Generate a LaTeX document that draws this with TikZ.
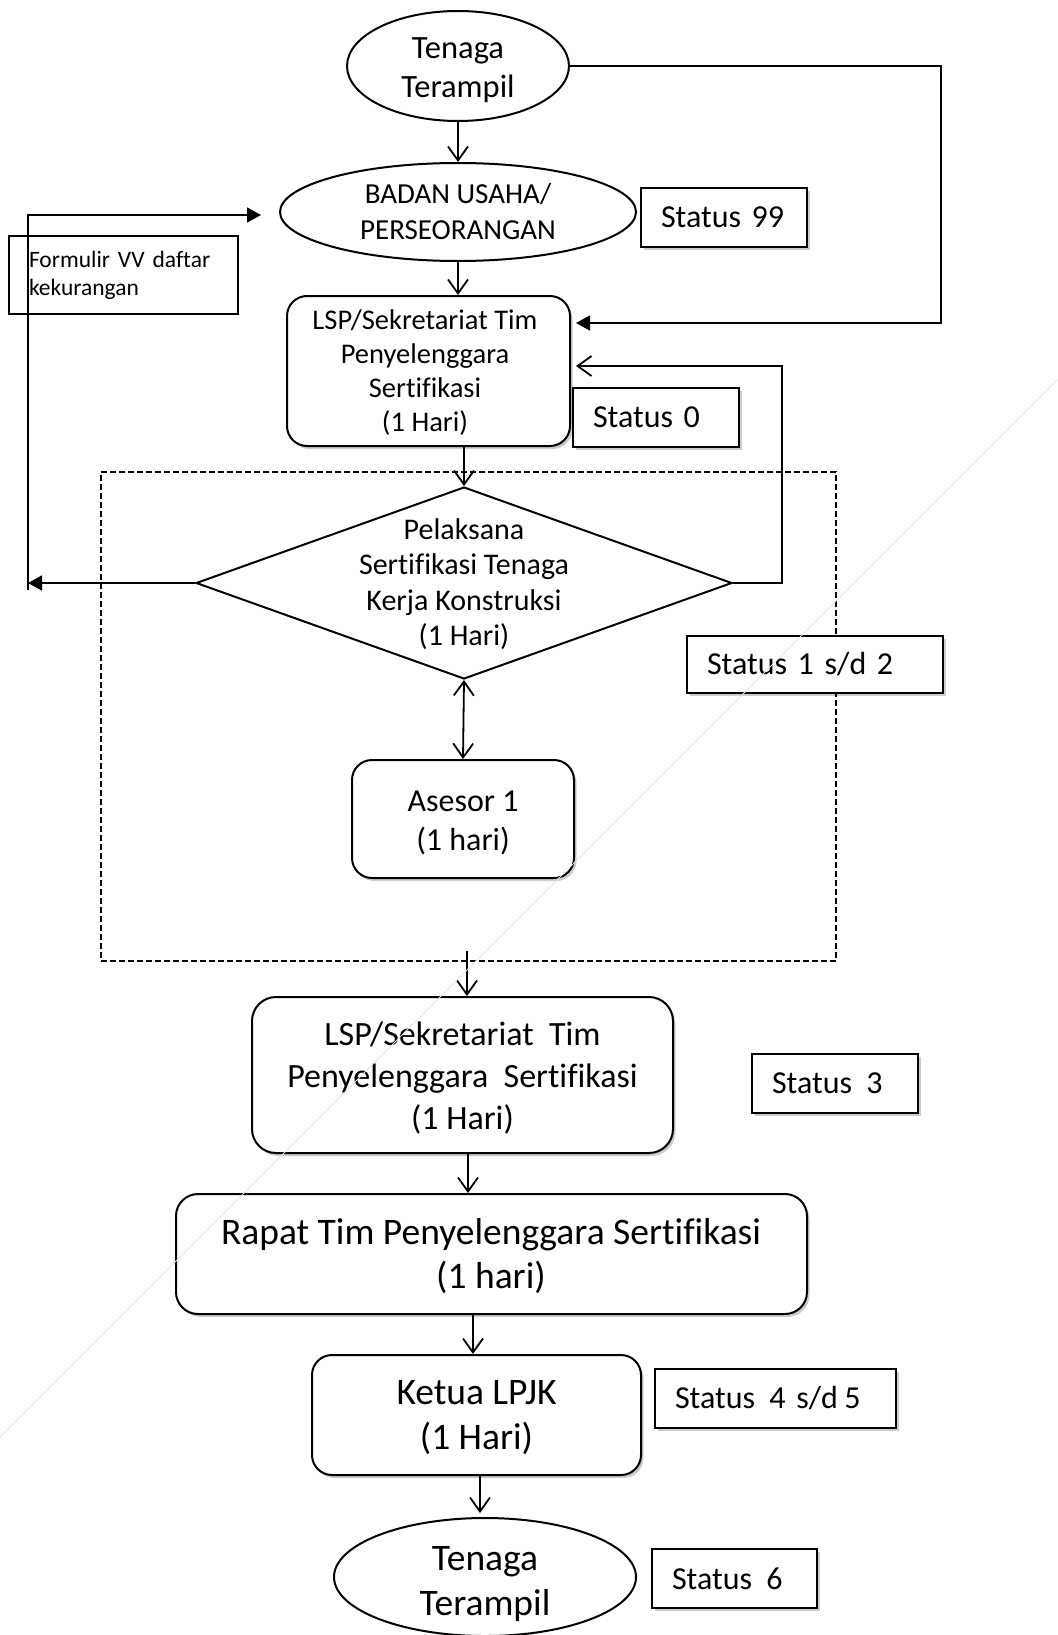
\documentclass[tikz,border=0pt]{standalone}
\usepackage{fontspec}
\setmainfont{Carlito}[Ligatures=NoCommon]
\usetikzlibrary{shapes.geometric,arrows.meta,shadows}
\newcommand\fsz[2]{\fontsize{#1}{#2}\selectfont}
\begin{document}
\begin{tikzpicture}[x=1pt,y=-1pt,
  base/.style={draw=black, line width=2pt, fill=white, inner sep=0pt},
  shad/.style={drop shadow={shadow xshift=2.5pt,shadow yshift=-3pt,fill=black,opacity=0.2}},
  rbox/.style={base, rectangle, rounded corners=20pt, shad, align=center},
  sbox/.style={base, rectangle, shad, align=left, inner xsep=20pt, font=\fsz{32}{38}},
  ell/.style={base, ellipse},
  dia/.style={base, diamond},
  txt/.style={align=center, inner sep=0pt},
  conn/.style={line width=1.8pt, draw=black},
  oarrow/.style={conn, -{Straight Barb[length=14pt,width=20pt]}},
  barrow/.style={conn, {Straight Barb[length=14pt,width=20pt]}-{Straight Barb[length=14pt,width=20pt]}},
  farrow/.style={conn, -{Triangle[length=14pt,width=15pt]}},
  faint/.style={draw=gray!22, line width=1pt}
]
\fill[white] (0,0) rectangle (1057,1635);
\useasboundingbox (0,0) rectangle (1057,1635);

% dashed group frame
\node[draw, dash pattern=on 6pt off 3pt, line width=1.8pt, minimum width=735pt, minimum height=489pt, inner sep=0pt] (grp) at (468.5,716.5) {};

% nodes
\node[ell, minimum width=222pt, minimum height=110pt] (t1) at (458,66) {};
\node[txt, font=\fsz{32.5}{39}] (t1t) at (458,70) {Tenaga\\Terampil};

\node[ell, minimum width=356pt, minimum height=98pt] (bu) at (458,212) {};
\node[txt, font=\fsz{29}{36}] (but) at (bu) {BADAN USAHA/\\PERSEORANGAN};

\node[sbox, minimum height=59pt, text width=126pt] (s99) at (724,217.5) {Status 99};

\node[base, rectangle, align=left, inner xsep=20pt, minimum height=78pt, text width=189pt, font=\fsz{23.5}{28}] (form) at (123.5,275) {Formulir VV daftar\\kekurangan};

\node[rbox, minimum width=283pt, minimum height=150pt] (lsp1) at (428.5,371) {};
\node[txt, font=\fsz{28.5}{34}] (lsp1t) at (425,373) {LSP/Sekretariat Tim\\Penyelenggara\\Sertifikasi\\(1 Hari)};

\node[sbox, minimum height=59pt, text width=126pt] (s0) at (656,417.5) {Status 0};

\node[dia, minimum width=536pt, minimum height=192pt] (dia) at (464,583) {};
\node[txt, font=\fsz{30}{35.5}] (diat) at (464,584) {Pelaksana\\Sertifikasi Tenaga\\Kerja Konstruksi\\(1 Hari)};

\node[sbox, minimum height=57pt, text width=216pt] (s12) at (815,664.5) {Status 1 s/d 2};

\node[rbox, minimum width=222pt, minimum height=118pt] (ases) at (463,819) {};
\node[txt, font=\fsz{32}{39}] (asest) at (463,823) {Asesor 1\\(1 hari)};

\node[rbox, rounded corners=24pt, minimum width=421pt, minimum height=156pt] (lsp2) at (462.5,1075) {};
\node[txt, font=\fsz{34}{42}] (lsp2t) at (462.5,1078) {LSP/Sekretariat~ Tim\\Penyelenggara~ Sertifikasi\\(1 Hari)};

\node[sbox, minimum height=59pt, text width=126pt] (s3) at (835,1083.5) {Status\hspace{0.45em}3};

\node[rbox, rounded corners=22pt, minimum width=631pt, minimum height=120pt] (rapat) at (491.5,1254) {};
\node[txt, font=\fsz{37.5}{44}] (rapatt) at (491,1256) {Rapat Tim Penyelenggara Sertifikasi\\(1 hari)};

\node[rbox, minimum width=329pt, minimum height=120pt] (ketua) at (476.5,1415) {};
\node[txt, font=\fsz{37.5}{45}] (ketuat) at (476.5,1418) {Ketua LPJK\\(1 Hari)};

\node[sbox, minimum height=59pt, text width=201pt] (s45) at (775.5,1398.5) {Status\hspace{0.45em}4 s/d\hspace{0.2em}5};

\node[ell, minimum width=302pt, minimum height=118pt] (t2) at (485,1577) {};
\node[txt, font=\fsz{37.5}{45}] (t2t) at (485,1584) {Tenaga\\Terampil};

\node[sbox, minimum height=59pt, text width=125pt] (s6) at (734.5,1578.5) {Status\hspace{0.45em}6};

% coordinates
\coordinate (r1) at (941,323);
\coordinate (r2) at (782,366);
\coordinate (lf) at (28,583);
\coordinate (lb) at (28,590);
\coordinate (lt) at (28,215);
\coordinate (gs) at (467,951);

% connectors
\draw[oarrow] (t1.south) -- (bu.north);
\draw[oarrow] (bu.south) -- (bu.south |- lsp1.north);
\draw[farrow, shorten >=5pt] (t1.east) -| (r1) -- (r1 -| lsp1.east);
\draw[oarrow, shorten >=5pt] (dia.east) -| (r2) -- (r2 -| lsp1.east);
\draw[oarrow] (lsp1.south -| dia.north) -- (dia.north);
\draw[barrow] (dia.south) -- (ases.north);
\draw[farrow] (dia.west) -- (lf);
\draw[farrow, shorten >=18pt] (lb) -- (lt) -- (bu.west |- lt);
\draw[oarrow] (gs) -- (gs |- lsp2.north);
\draw[oarrow] ([xshift=5.5pt]lsp2.south) -- ([xshift=5.5pt]lsp2.south |- rapat.north);
\draw[oarrow] ([xshift=-18.5pt]rapat.south) -- ([xshift=-18.5pt]rapat.south |- ketua.north);
\draw[oarrow, shorten >=4pt] ([xshift=3.5pt]ketua.south) -- ([xshift=3.5pt]ketua.south |- t2.north);

% faint scan line
\coordinate (fa) at (0,1437);
\coordinate (fb) at (1057,380);
\draw[faint] (fa) -- (fb);
\end{tikzpicture}
\end{document}
